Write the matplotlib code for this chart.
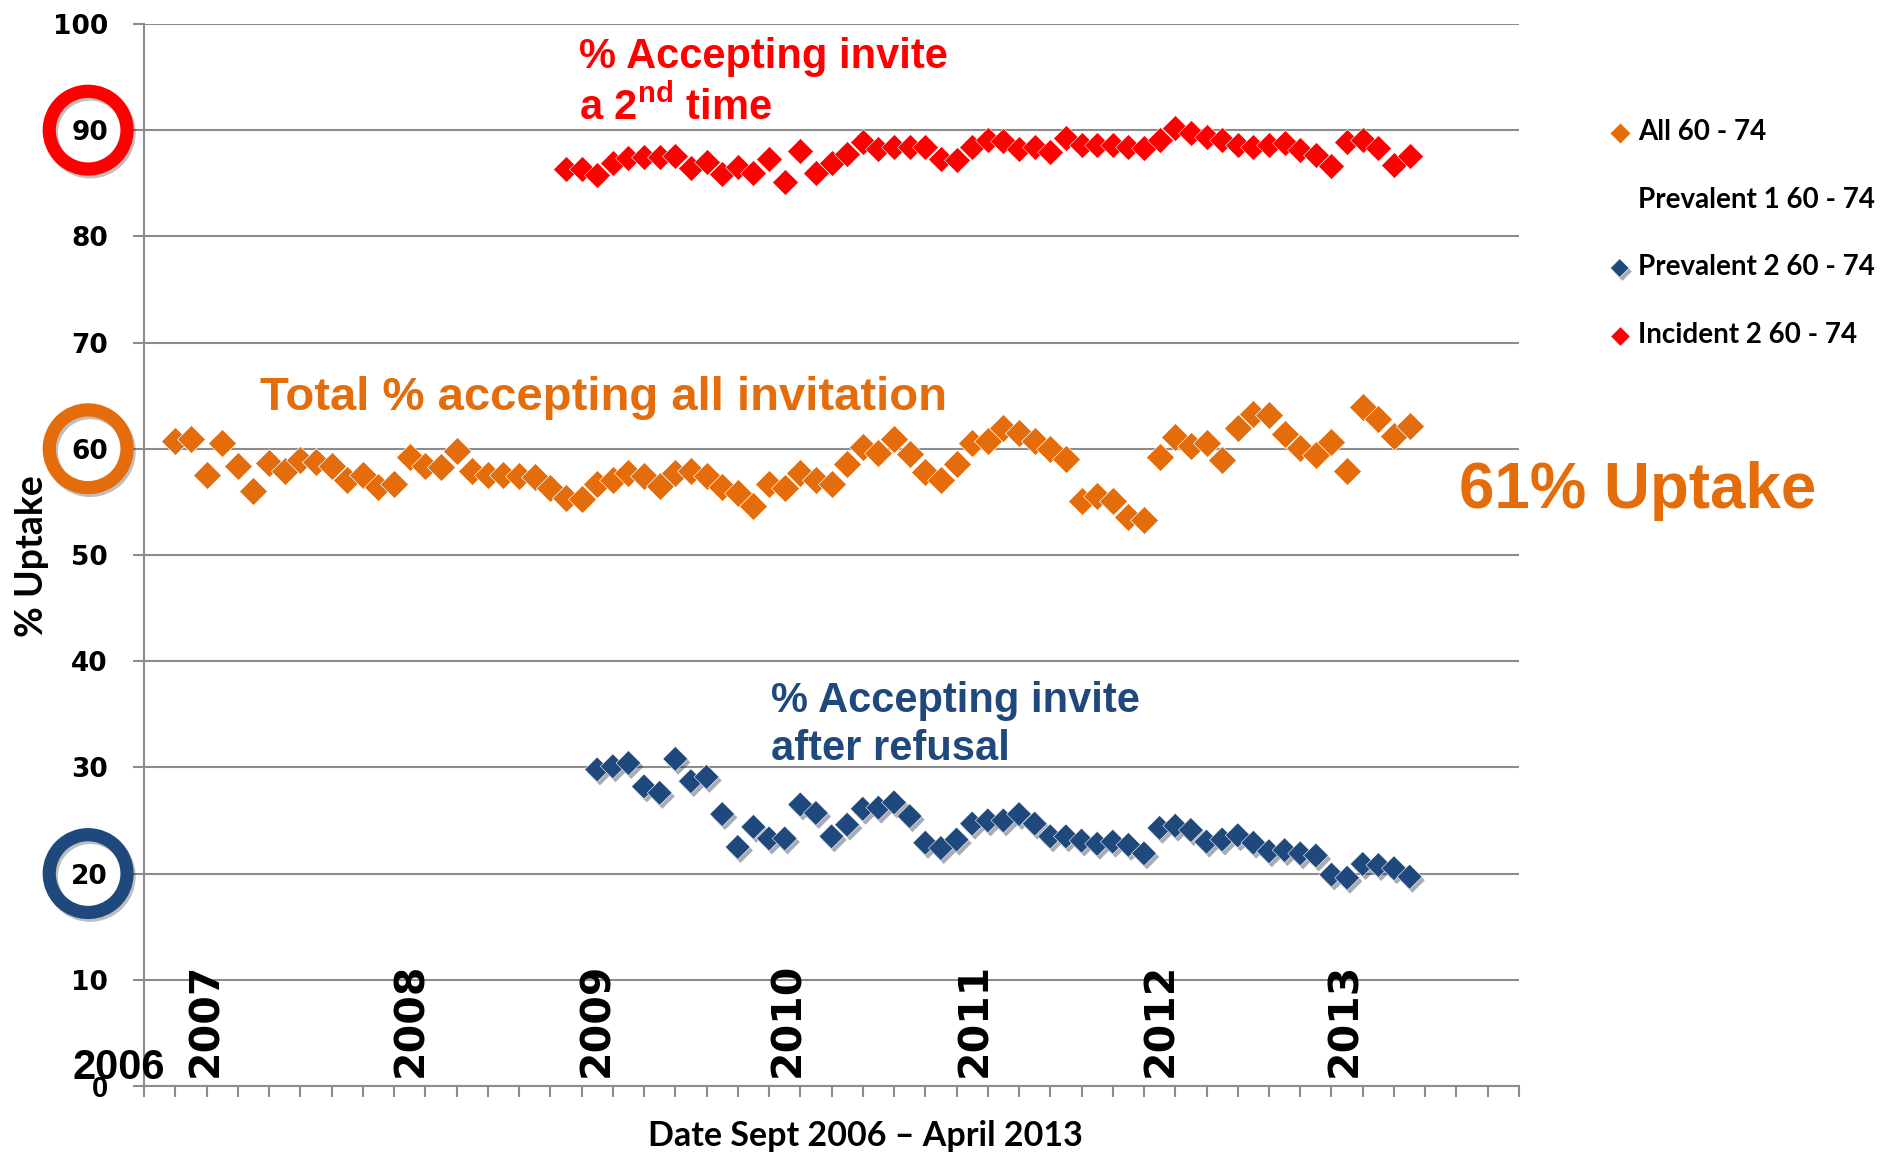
import numpy as np
import matplotlib
matplotlib.use("Agg")
import matplotlib.pyplot as plt
import matplotlib.patheffects as pe
from matplotlib.transforms import blended_transform_factory

plt.rcParams['mathtext.fontset'] = 'custom'
plt.rcParams['mathtext.rm'] = 'Liberation Sans:bold'
plt.rcParams['mathtext.bf'] = 'Liberation Sans:bold'

ORANGE = '#E46C0A'
BLUE = '#1F497D'
RED = '#FF0000'
GRID = '#8C8C8C'

# month index on the axis (0 = left edge of the plot)
months_all = np.arange(2, 82)
all_60_74 = [60.7, 60.9, 57.5, 60.5, 58.4, 56.0, 58.7, 57.9, 58.9, 58.8,
             58.4, 57.1, 57.5, 56.4, 56.7, 59.2, 58.4, 58.3, 59.8, 57.9,
             57.5, 57.5, 57.4, 57.3, 56.3, 55.4, 55.3, 56.7, 57.1, 57.7,
             57.4, 56.5, 57.7, 57.9, 57.4, 56.4, 55.8, 54.6, 56.7, 56.3,
             57.7, 57.1, 56.7, 58.6, 60.2, 59.6, 60.9, 59.5, 57.8, 57.1,
             58.6, 60.5, 60.7, 62.0, 61.5, 60.7, 60.0, 59.0, 55.1, 55.6,
             55.1, 53.6, 53.3, 59.2, 61.1, 60.3, 60.5, 58.9, 62.0, 63.3,
             63.2, 61.4, 60.1, 59.4, 60.6, 57.9, 63.9, 62.8, 61.2, 62.1]

months_prev1 = []
prevalent_1 = []

months_prev2 = np.arange(29, 82)
prevalent_2 = [29.8, 30.1, 30.4, 28.2, 27.6, 30.8, 28.7, 29.1, 25.6, 22.5,
               24.4, 23.3, 23.3, 26.5, 25.7, 23.5, 24.6, 26.1, 26.2, 26.7,
               25.4, 22.9, 22.4, 23.2, 24.7, 25.0, 25.0, 25.6, 24.7, 23.5,
               23.5, 23.1, 22.8, 23.0, 22.7, 21.9, 24.3, 24.5, 24.1, 23.0,
               23.2, 23.6, 22.9, 22.1, 22.2, 21.9, 21.7, 19.9, 19.6, 20.9,
               20.8, 20.5, 19.7]

months_inc2 = np.arange(27, 82)
incident_2 = [86.3, 86.3, 85.8, 86.9, 87.4, 87.5, 87.5, 87.6, 86.4, 87.0,
              85.9, 86.5, 86.0, 87.3, 85.1, 88.0, 86.0, 86.9, 87.8, 88.9,
              88.2, 88.4, 88.4, 88.4, 87.3, 87.2, 88.4, 89.1, 89.0, 88.2,
              88.4, 87.9, 89.3, 88.6, 88.6, 88.6, 88.4, 88.3, 89.1, 90.2,
              89.7, 89.4, 89.1, 88.6, 88.4, 88.6, 88.8, 88.1, 87.7, 86.6,
              88.9, 89.1, 88.3, 86.7, 87.6]

year_labels = ['2007', '2008', '2009', '2010', '2011', '2012', '2013']
year_pos = [4.0, 17.1, 29.0, 41.2, 53.2, 65.1, 76.9]
circled = [(90, RED), (60, ORANGE), (20, BLUE)]

fig = plt.figure(figsize=(18.86, 11.52), dpi=100)
ax = fig.add_axes([0.0764, 0.0573, 0.7290, 0.9219])

ax.scatter(months_all, all_60_74, marker='D', s=14.3**2, c=ORANGE,
           edgecolors='white', linewidths=0.5, zorder=3, label='All 60 - 74')
ax.scatter(months_prev1, prevalent_1, marker='D', s=14**2, c='white',
           zorder=3, label='Prevalent 1 60 - 74')
sc = ax.scatter(months_prev2, prevalent_2, marker='D', s=12.7**2, c=BLUE,
                edgecolors='white', linewidths=0.4, zorder=3,
                label='Prevalent 2 60 - 74')
sc.set_path_effects([pe.SimplePatchShadow(offset=(2, -2.5), alpha=0.35),
                     pe.Normal()])
ax.scatter(months_inc2, incident_2, marker='D', s=13.2**2, c=RED,
           edgecolors='white', linewidths=0.4, zorder=3,
           label='Incident 2 60 - 74')

ax.set_xlim(0, 88)
ax.set_ylim(0, 100)
ax.set_yticks(np.arange(0, 101, 10))
ax.set_xticks(np.arange(0, 89, 2))
ax.set_xticklabels([])
ax.tick_params(axis='y', length=8, width=1.5, color=GRID, pad=18)
ax.tick_params(axis='x', length=8, width=1.5, color=GRID)
for lab in ax.get_yticklabels():
    lab.set_fontfamily('DejaVu Sans')
    lab.set_fontweight('bold')
    lab.set_fontsize(19)
zero = ax.get_yticklabels()[0]
zero.set_fontfamily('Liberation Sans')
zero.set_fontsize(21)

ax.yaxis.grid(True, color=GRID, lw=1.5)
ax.set_axisbelow(True)
for s in ['top', 'right']:
    ax.spines[s].set_visible(False)
for s in ['left', 'bottom']:
    ax.spines[s].set_color(GRID)
    ax.spines[s].set_linewidth(1.5)

# year labels
for lab, xp in zip(year_labels, year_pos):
    ax.text(xp, 0.85, lab, rotation=90, ha='center', va='bottom',
            fontsize=29.5, fontweight='heavy', family='DejaVu Sans')
ax.text(-1.6, 0.66, '2006', ha='center', va='baseline', fontsize=30,
        fontweight='bold', family='Liberation Sans', clip_on=False)

# circles around key y values
tr = blended_transform_factory(ax.transAxes, ax.transData)
for yv, col in circled:
    ax.plot([-0.0407], [yv], marker='o', ms=56, mfc='none', mec=col, mew=9.5,
            transform=tr, clip_on=False, zorder=5,
            path_effects=[pe.SimpleLineShadow(offset=(1.5, -2), alpha=0.25),
                          pe.Normal()])

# annotations
kw = dict(fontweight='bold', family='Liberation Sans', va='baseline')
ax.text(27.84, 95.86, '% Accepting invite', color=RED, fontsize=30, **kw)
ax.text(27.84, 90.96, r'a 2$^{\mathbf{nd}}$ time', color=RED, fontsize=30, **kw)
ax.text(7.42, 63.65, 'Total % accepting all invitation', color=ORANGE,
        fontsize=34, **kw)
ax.text(84.16, 54.46, '61% Uptake', color=ORANGE, fontsize=45.8,
        clip_on=False, **kw)
ax.text(40.13, 35.22, '% Accepting invite', color=BLUE, fontsize=30, **kw)
ax.text(40.13, 30.70, 'after refusal', color=BLUE, fontsize=30, **kw)

fig.text(865/1886, 1 - 1146/1152, 'Date Sept 2006 \u2013 April 2013',
         ha='center', va='baseline', fontsize=24.5, fontweight='bold',
         family='Lato')
fig.text(32/1886, 1 - 556/1152, '% Uptake', rotation=90, ha='center',
         va='center', fontsize=27, fontweight='bold', family='Lato')

fig.legend(loc='upper left', bbox_to_anchor=(1610/1886, 1 - 119/1152),
           frameon=False, markerscale=0.75, handlelength=0.7,
           handletextpad=0.3, borderpad=0, borderaxespad=0,
           labelspacing=1.5, prop={'family': 'Lato', 'weight': 'bold',
                                   'size': 20})

fig.savefig('out.png', dpi=100)
